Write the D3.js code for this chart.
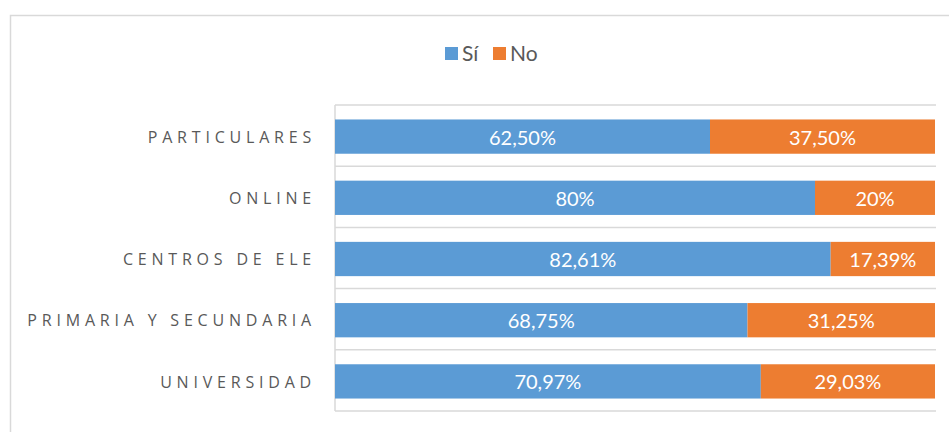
<!DOCTYPE html>
<html>
<head>
<meta charset="utf-8">
<script src="https://cdn.jsdelivr.net/npm/d3@7"></script>
<style>
  body { margin: 0; background: #fff; }
  text { font-family: Lato, "Open Sans", sans-serif; }
</style>
</head>
<body>
<script>
// data
const categories = ["PARTICULARES", "ONLINE", "CENTROS DE ELE", "PRIMARIA Y SECUNDARIA", "UNIVERSIDAD"]
const si = [62.50, 80, 82.61, 68.75, 70.97]
const no = [37.50, 20, 17.39, 31.25, 29.03]
const siLabels = ["62,50%", "80%", "82,61%", "68,75%", "70,97%"]
const noLabels = ["37,50%", "20%", "17,39%", "31,25%", "29,03%"]
const seriesNames = ["Sí", "No"]
const colors = ["#5b9bd5", "#ed7d31"]

const W = 949, H = 432
const margin = {top: 105, right: 14, bottom: 21, left: 335}
const width = W - margin.left - margin.right
const height = H - margin.top - margin.bottom

const svg = d3.select("body").append("svg")
  .attr("width", W)
  .attr("height", H)

// chart border
svg.append("rect")
  .attr("x", 10.5).attr("y", 15.5)
  .attr("width", W).attr("height", H)
  .attr("fill", "none")
  .attr("stroke", "#d9d9d9")
  .attr("stroke-width", 1.5)

const g = svg.append("g")
  .attr("transform", "translate(" + margin.left + "," + margin.top + ")")

// scales
const x = d3.scaleLinear().domain([0, 100]).range([0, width])
const y = d3.scaleBand().domain(categories).range([0, height]).paddingInner(0.44).paddingOuter(0.22)

// category grid lines
const bounds = d3.range(categories.length + 1).map(i => i * height / categories.length)
g.selectAll(".grid")
  .data(bounds)
  .enter().append("line")
  .attr("x1", 0).attr("x2", width + 1)
  .attr("y1", d => d).attr("y2", d => d)
  .attr("stroke", "#d9d9d9")
  .attr("stroke-width", 1.5)

g.append("line")
  .attr("x1", 0).attr("x2", 0)
  .attr("y1", 0).attr("y2", height)
  .attr("stroke", "#d9d9d9")
  .attr("stroke-width", 1.5)

// stacked data
const rows = categories.map((c, i) => ({cat: c, si: si[i], no: no[i], siL: siLabels[i], noL: noLabels[i]}))
const stack = d3.stack().keys(["si", "no"])(rows)

const layer = g.selectAll(".layer")
  .data(stack)
  .enter().append("g")
  .attr("fill", (d, i) => colors[i])

layer.selectAll("rect")
  .data(d => d)
  .enter().append("rect")
  .attr("x", d => x(d[0]))
  .attr("y", d => y(d.data.cat) + 1)
  .attr("width", d => x(d[1]) - x(d[0]))
  .attr("height", y.bandwidth())

// value labels
layer.selectAll("text")
  .data((d, i) => d.map(v => ({v, key: i === 0 ? "siL" : "noL"})))
  .enter().append("text")
  .attr("x", d => (x(d.v[0]) + x(d.v[1])) / 2)
  .attr("y", d => y(d.v.data.cat) + y.bandwidth() / 2 + 2)
  .attr("dy", "0.35em")
  .attr("text-anchor", "middle")
  .attr("fill", "#fff")
  .attr("font-size", 20)
  .text(d => d.v.data[d.key])

// category axis
const yAxis = g.append("g")
  .attr("transform", "translate(0,2)")
  .call(d3.axisLeft(y).tickSize(0).tickPadding(19))
yAxis.select(".domain").remove()
yAxis.selectAll("text")
  .attr("font-size", 16)
  .attr("fill", "#595959")
  .attr("letter-spacing", "4.8px")
  .style("font-family", "'Open Sans', sans-serif")

// legend
const legend = svg.append("g").attr("transform", "translate(445,53)")
const legendX = [0, 48]
seriesNames.forEach(function(name, i) {
  legend.append("rect")
    .attr("x", legendX[i]).attr("y", -6)
    .attr("width", 13).attr("height", 13)
    .attr("fill", colors[i])
  legend.append("text")
    .attr("x", legendX[i] + 17).attr("y", 1)
    .attr("dy", "0.35em")
    .attr("font-size", 21)
    .attr("fill", "#595959")
    .text(name)
})
</script>
</body>
</html>
